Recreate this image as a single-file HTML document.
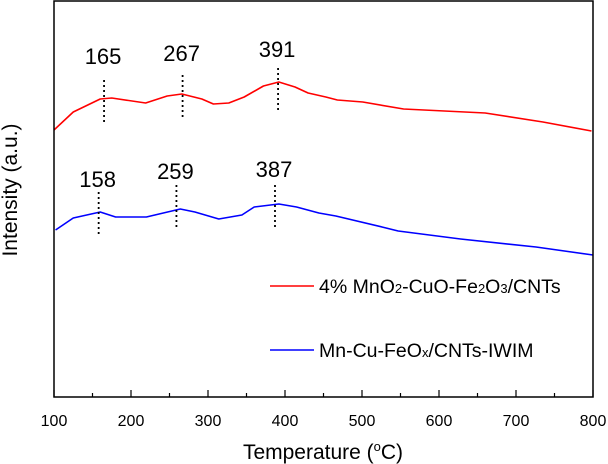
<!DOCTYPE html>
<html><head><meta charset="utf-8">
<style>
html,body{margin:0;padding:0;background:#fff;}
svg{display:block;font-family:"Liberation Sans",Arial,sans-serif;}
</style></head>
<body>
<svg id="chart" width="608" height="464" viewBox="0 0 608 464">
  <g id="marks"></g>
  <rect x="54" y="1" width="539" height="396" fill="none" stroke="#000" stroke-width="1.5"/>
  <g id="xaxis"></g>
  <text x="323" y="459" text-anchor="middle" font-size="21">Temperature (<tspan font-size="13" dy="-8">o</tspan><tspan dy="8">C)</tspan></text>
  <text transform="translate(17,190) rotate(-90)" text-anchor="middle" font-size="21">Intensity (a.u.)</text>
  <g>
    <line x1="270" y1="286" x2="314" y2="286" stroke="#f00" stroke-width="1.5"/>
    <text x="319" y="293" font-size="19.5">4% MnO<tspan font-size="13">2</tspan>-CuO-Fe<tspan font-size="13">2</tspan>O<tspan font-size="13">3</tspan>/CNTs</text>
    <line x1="270" y1="350" x2="314" y2="350" stroke="#00f" stroke-width="1.5"/>
    <text x="319" y="357" font-size="19.5">Mn-Cu-FeO<tspan font-size="13">x</tspan>/CNTs-IWIM</text>
  </g>
</svg>
<script>
const xTicks = [100,200,300,400,500,600,700,800];
const redT = [100,125,160,175,219,247,266,292,307,327,347,372,392,413,430,453,468,501,554,660,735,798];
const redI = [267,285,298,299,294,301,303,298,293,294,300,311,315,310,304,300,297,295,288,284,275,266];
const blueT = [102,125,160,180,220,264,283,314,344,360,392,415,444,466,526,547,628,726,800];
const blueI = [167,179,185,180,180,188,185,178,182,190,193,190,184,181,170,166,158,150,142];
const redPeaks = [165,267,391];
const redPeakTop = [317,322,329];
const redLabelI = [333,336,340];
const bluePeaks = [158,259,387];
const bluePeakTop = [205,212,212];
const blueLabelI = [210,218,220];

const NS="http://www.w3.org/2000/svg";
const xs = t => 54 + (t-100)*539/700;
const ys = v => 397 - v;
const marks = document.getElementById('marks');
const xa = document.getElementById('xaxis');

function line(x1,y1,x2,y2,stroke,w,dash){const l=document.createElementNS(NS,'line');
l.setAttribute('x1',x1);l.setAttribute('y1',y1);l.setAttribute('x2',x2);l.setAttribute('y2',y2);
l.setAttribute('stroke',stroke);l.setAttribute('stroke-width',w);if(dash)l.setAttribute('stroke-dasharray',dash);return l;}

for(let t=100;t<=800;t+=50){
  const major = t%100===0;
  const l=line(xs(t),397,xs(t),397-(major?7:4),'#000',1.2);
  
  
  xa.appendChild(l);
}
xTicks.forEach(t=>{const tx=document.createElementNS(NS,'text');
tx.setAttribute('x',xs(t));tx.setAttribute('y',426);tx.setAttribute('text-anchor','middle');tx.setAttribute('font-size','16');
tx.textContent=t;


xa.appendChild(tx);});

function series(T,I,color,name){const p=document.createElementNS(NS,'polyline');
p.setAttribute('points',T.map((t,i)=>xs(t)+','+ys(I[i])).join(' '));
p.setAttribute('fill','none');p.setAttribute('stroke',color);p.setAttribute('stroke-width','1.6');p.setAttribute('stroke-linejoin','round');


marks.appendChild(p);}
series(redT,redI,'#f00','red-series-line');
series(blueT,blueI,'#00f','blue-series-line');

function peaks(P,top,lab,name){P.forEach((t,i)=>{
  const l=line(xs(t),ys(top[i]),xs(t),ys(top[i])+45,'#000',1.8,'2,3');
  
  
  marks.appendChild(l);
  const tx=document.createElementNS(NS,'text');
  tx.setAttribute('x',xs(t)-1);tx.setAttribute('y',ys(lab[i]));tx.setAttribute('text-anchor','middle');tx.setAttribute('font-size','22');
  tx.textContent=t;
  
  
  marks.appendChild(tx);});}
peaks(redPeaks,redPeakTop,redLabelI,'red-peak');
peaks(bluePeaks,bluePeakTop,blueLabelI,'blue-peak');
</script>
</body></html>
